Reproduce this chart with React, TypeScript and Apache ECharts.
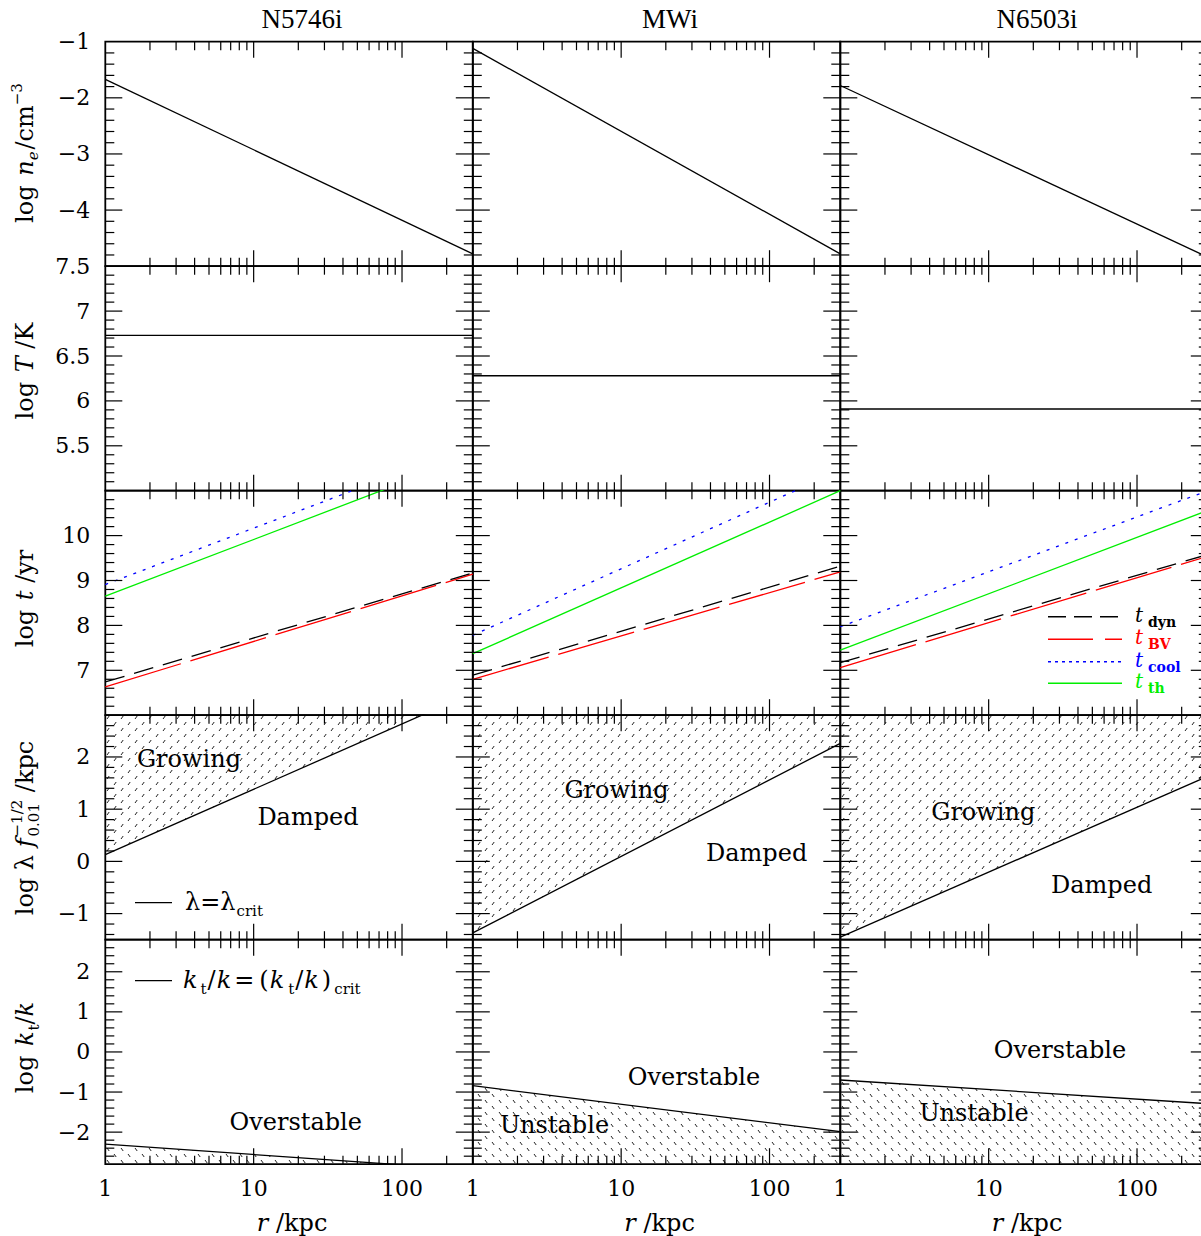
import React, { useEffect, useRef } from 'react';
import * as echarts from 'echarts';

// ---------- data ----------
const GALAXIES = ['N5746i', 'MWi', 'N6503i'];
const R_SAMPLES = [1, 300]; // r / kpc, end points of each profile
const LOG_NE = [[-1.67, -4.78], [-1.12, -4.78], [-1.78, -4.84]];
const LOG_T = [[6.73, 6.73], [6.28, 6.28], [5.91, 5.91]];
const LOG_TDYN = [[6.74, 9.17], [6.89, 9.32], [7.17, 9.58]];
const LOG_TBV = [[6.63, 9.14], [6.8, 9.19], [7.06, 9.54]];
const LOG_TCOOL = [[8.91, 12.02], [7.78, 11.45], [7.97, 11.0]];
const LOG_TTH = [[8.65, 11.78], [7.37, 11.0], [7.45, 10.56]];
const LOG_LAMBDA_CRIT = [[0.13, 3.23], [-1.37, 2.26], [-1.45, 1.63]];
const LOG_KTK_CRIT = [[-2.3, -2.94], [-0.84, -1.99], [-0.7, -1.29]];

// ---------- axes / ticks ----------
const R_MIN = 1;
const R_MAX = 300;
const X_TICK_LABELS = [1, 10, 100];
const X_MAJOR_TICKS = [10, 100];
const X_MINOR_TICKS = [2, 3, 4, 5, 6, 7, 8, 9, 20, 30, 40, 50, 60, 70, 80, 90, 200];
const Y_MIN = [-5, 5, 6, -1.5, -2.8];
const Y_MAX = [-1, 7.5, 11, 2.8, 2.8];
const Y_TICK_LABELS = [
  [-4, -3, -2, -1],
  [5.5, 6, 6.5, 7, 7.5],
  [7, 8, 9, 10],
  [-1, 0, 1, 2],
  [-2, -1, 0, 1, 2],
];
const Y_LABEL_STEP = [1, 0.5, 1, 0.5, 0.2];
const Y_MINOR_STEP = [0.2, 0.1, 0.2, 0.2, 0.2];
const Y_MAJOR_STEP = [1, 0.5, 1, 1, 1];

// ---------- layout ----------
const COL_LEFT = [105.3, 472.8, 840.3];
const ROW_TOP = [41.7, 266.2, 490.7, 715.2, 939.7];
const PW = 367.5;
const PH = 224.5;
const FAM = '"DejaVu Serif"';
const GREEN = '#00ee00';
const RED = '#ff0000';
const BLUE = '#0000ff';

let mctx: CanvasRenderingContext2D | null = null;
function tw(t: string, font: string) {
  if (!mctx) mctx = document.createElement('canvas').getContext('2d');
  mctx!.font = font;
  return mctx!.measureText(t).width;
}
function fontOf(p: any) {
  return `${p.it ? 'italic ' : ''}${p.b ? 'bold ' : ''}${p.size}px ${p.fam || FAM}`;
}
function txt(t: string, x: number, y: number, font: string, fill = '#000', align = 'left') {
  return {
    type: 'text',
    silent: true,
    style: { text: t, x, y, font, fill, align, textAlign: align, verticalAlign: 'middle', textVerticalAlign: 'middle' },
  };
}
function run(pieces: any[]) {
  let x = 0;
  const ch: any[] = [];
  for (const p of pieces) {
    x += p.dx || 0;
    const f = fontOf(p);
    ch.push(txt(p.t, x, (p.dy || 0) - 0.346 * p.size, f, p.color || '#000'));
    let w = tw(p.t, f);
    if (p.stack) {
      const s = p.stack;
      const f2 = fontOf(s);
      ch.push(txt(s.t, x, (s.dy || 0) - 0.346 * s.size, f2, s.color || '#000'));
      w = Math.max(w, tw(s.t, f2));
    }
    x += w;
  }
  return { children: ch, width: x };
}
function placed(pieces: any[], x: number, y: number, center: boolean, rotate = false) {
  const r = run(pieces);
  const off = center ? -r.width / 2 : 0;
  r.children.forEach((c) => (c.style.x += off));
  return { type: 'group', x, y, rotation: rotate ? Math.PI / 2 : 0, silent: true, children: r.children };
}

function makeHatch(slash: boolean) {
  const c = document.createElement('canvas');
  c.width = 14;
  c.height = 12;
  const ctx = c.getContext('2d')!;
  ctx.strokeStyle = '#222';
  ctx.lineWidth = 1;
  const mark = (x: number, y: number) => {
    ctx.beginPath();
    if (slash) {
      ctx.moveTo(x, y + 3);
      ctx.lineTo(x + 2.2, y);
    } else {
      ctx.moveTo(x, y);
      ctx.lineTo(x + 2.2, y + 3);
    }
    ctx.stroke();
  };
  mark(2, 2);
  mark(9, 8);
  return { image: c, repeat: 'repeat', imageWidth: 14, imageHeight: 12 };
}

function yTicks(r: number) {
  const out: number[][] = [];
  const step = Y_MINOR_STEP[r];
  const n0 = Math.ceil(Y_MIN[r] / step - 1e-6);
  const n1 = Math.floor(Y_MAX[r] / step + 1e-6);
  for (let n = n0; n <= n1; n++) {
    const v = +(n * step).toFixed(6);
    if (Math.abs(v - Y_MIN[r]) < 1e-6 || Math.abs(v - Y_MAX[r]) < 1e-6) continue;
    const m = v / Y_MAJOR_STEP[r];
    out.push([v, Math.abs(m - Math.round(m)) < 1e-6 ? 1 : 0]);
  }
  return out;
}
const fmtNum = (v: number) => (v < 0 ? '\u2212' : '') + String(Math.abs(+v.toFixed(4)));

function buildOption() {
  const grid: any[] = [];
  const xAxis: any[] = [];
  const yAxis: any[] = [];
  const series: any[] = [];
  const hatchSlash = makeHatch(true);
  const hatchBack = makeHatch(false);

  const lineSeries = (g: number, ys: number[], color: string, dash: any, extra: any = {}) => ({
    type: 'line',
    xAxisIndex: g,
    yAxisIndex: g,
    data: R_SAMPLES.map((r, i) => [r, ys[i]]),
    symbol: 'none',
    silent: true,
    clip: true,
    z: 3,
    lineStyle: { color, width: 1.3, type: dash || 'solid' },
    ...extra,
  });

  for (let r = 0; r < 5; r++) {
    for (let c = 0; c < 3; c++) {
      const g = r * 3 + c;
      grid.push({
        left: COL_LEFT[c],
        top: ROW_TOP[r],
        width: PW,
        height: PH,
        show: true,
        borderColor: '#000',
        borderWidth: 1.8,
        backgroundColor: 'rgba(0,0,0,0)',
        containLabel: false,
        outerBoundsMode: 'none',
      });
      xAxis.push({
        type: 'log',
        logBase: 10,
        gridIndex: g,
        min: R_MIN,
        max: R_MAX,
        axisLine: { show: false },
        axisTick: { show: false },
        splitLine: { show: false },
        minorTick: { show: false },
        minorSplitLine: { show: false },
        axisLabel: {
          show: r === 4,
          margin: 13,
          color: '#000',
          fontFamily: 'DejaVu Serif',
          fontSize: 22,
          showMaxLabel: false,
          formatter: (v: number) => {
            const l = X_TICK_LABELS.find((t) => Math.abs(t - v) < 1e-6 * t);
            return l != null ? String(l) : '';
          },
        },
      });
      yAxis.push({
        type: 'value',
        gridIndex: g,
        min: Y_MIN[r],
        max: Y_MAX[r],
        interval: Y_LABEL_STEP[r],
        axisLine: { show: false },
        axisTick: { show: false },
        splitLine: { show: false },
        axisLabel: {
          show: c === 0,
          margin: 15,
          color: '#000',
          fontFamily: 'DejaVu Serif',
          fontSize: 22,
          showMinLabel: true,
          showMaxLabel: true,
          formatter: (v: number) => {
            const l = Y_TICK_LABELS[r].find((t) => Math.abs(t - v) < 1e-6);
            return l != null ? fmtNum(l) : '';
          },
        },
      });

      // ticks on all four sides
      const tickData: number[][] = [];
      X_MINOR_TICKS.forEach((v) => tickData.push([v, Y_MIN[r], 0, 0]));
      X_MAJOR_TICKS.forEach((v) => tickData.push([v, Y_MIN[r], 0, 1]));
      yTicks(r).forEach(([v, m]) => tickData.push([R_MIN, v, 1, m]));
      series.push({
        type: 'custom',
        xAxisIndex: g,
        yAxisIndex: g,
        silent: true,
        clip: false,
        z: 5,
        data: tickData,
        renderItem: (params: any, api: any) => {
          const cs = params.coordSys;
          const kind = api.value(2);
          const major = api.value(3);
          const p = api.coord([api.value(0), api.value(1)]);
          const style = { stroke: '#000', lineWidth: 1.2 };
          if (kind === 0) {
            const len = major ? 16 : 8.5;
            const x = p[0];
            return {
              type: 'group',
              children: [
                { type: 'line', shape: { x1: x, y1: cs.y + cs.height, x2: x, y2: cs.y + cs.height - len }, style },
                { type: 'line', shape: { x1: x, y1: cs.y, x2: x, y2: cs.y + len }, style },
              ],
            };
          }
          const len = major ? 17 : 9;
          const y = p[1];
          return {
            type: 'group',
            children: [
              { type: 'line', shape: { x1: cs.x, y1: y, x2: cs.x + len, y2: y }, style },
              { type: 'line', shape: { x1: cs.x + cs.width, y1: y, x2: cs.x + cs.width - len, y2: y }, style },
            ],
          };
        },
      });

      if (r === 0) series.push(lineSeries(g, LOG_NE[c], '#000', null));
      if (r === 1) series.push(lineSeries(g, LOG_T[c], '#000', null));
      if (r === 2) {
        series.push(lineSeries(g, LOG_TCOOL[c], BLUE, [3, 7]));
        series.push(lineSeries(g, LOG_TTH[c], GREEN, null));
        series.push(lineSeries(g, LOG_TBV[c], RED, [79, 10]));
        series.push(lineSeries(g, LOG_TDYN[c], '#000', [20, 10]));
      }
      if (r === 3)
        series.push(lineSeries(g, LOG_LAMBDA_CRIT[c], '#000', null, { areaStyle: { color: hatchSlash, origin: 'end', opacity: 1 } }));
      if (r === 4)
        series.push(lineSeries(g, LOG_KTK_CRIT[c], '#000', null, { areaStyle: { color: hatchBack, origin: 'start', opacity: 1 } }));
    }
  }

  // ---------- graphics (texts) ----------
  const graphic: any[] = [];
  const TITLE_X = [302, 670, 1037];
  GALAXIES.forEach((n, c) => {
    graphic.push(txt(n, TITLE_X[c], 28.3 - 0.34 * 27, '27px "Liberation Serif"', '#000', 'center'));
  });

  const S = 24;
  const SS = 15;
  const yTitles = [
    [{ t: 'log ', size: S }, { t: 'n', size: S, it: true, dx: 2 }, { t: 'e', size: SS, it: true, dy: 5 }, { t: '/cm', size: S, dx: 2 }, { t: '\u22123', size: SS, dy: -11 }],
    [{ t: 'log ', size: S }, { t: 'T', size: S, it: true, dx: 2 }, { t: ' /K', size: S }],
    [{ t: 'log ', size: S }, { t: 't', size: S, it: true, dx: 2 }, { t: ' /yr', size: S }],
    [
      { t: 'log ', size: S },
      { t: '\u03bb ', size: S },
      { t: 'f', size: S, it: true },
      { t: '\u22121/2', size: SS, dy: -11, dx: 2, stack: { t: '0.01', size: SS, dy: 6 } },
      { t: ' /kpc', size: S },
    ],
    [{ t: 'log ', size: S }, { t: 'k', size: S, it: true, dx: 2 }, { t: 't', size: SS, dy: 6, dx: 1 }, { t: '/', size: S }, { t: 'k', size: S, it: true }],
  ];
  const Y_TITLE_CY = [153, 371, 598.5, 828, 1047.5];
  yTitles.forEach((p, r) => graphic.push(placed(p, 33, Y_TITLE_CY[r], true, true)));

  for (let c = 0; c < 3; c++) {
    graphic.push(
      placed([{ t: 'r', size: S, it: true }, { t: ' /kpc', size: S }], COL_LEFT[c] + PW / 2 + 3, 1231, true)
    );
  }

  // legend of timescales
  const LEG = [
    { y: 616.7, dash: [18, 8], color: '#000', sub: 'dyn' },
    { y: 639.3, dash: [45, 12], color: RED, sub: 'BV' },
    { y: 661.7, dash: [3, 4], color: BLUE, sub: 'cool' },
    { y: 683.3, dash: null, color: GREEN, sub: 'th' },
  ];
  LEG.forEach((l) => {
    graphic.push({
      type: 'line',
      silent: true,
      shape: { x1: 1048, y1: l.y, x2: 1122, y2: l.y },
      style: { stroke: l.color, lineWidth: 1.4, lineDash: l.dash || undefined },
    });
    graphic.push(
      placed(
        [
          { t: 't', size: 20, it: true, color: l.color },
          { t: l.sub, size: 14, b: true, color: l.color, dy: 5, dx: 5 },
        ],
        1135,
        l.y + 5,
        false
      )
    );
  });

  // legend lines for the critical curves
  graphic.push({ type: 'line', silent: true, shape: { x1: 135, y1: 902.7, x2: 172, y2: 902.7 }, style: { stroke: '#000', lineWidth: 1.3 } });
  graphic.push(placed([{ t: '\u03bb=\u03bb', size: S }, { t: 'crit', size: SS, dy: 6, dx: 1 }], 185, 910, false));
  graphic.push({ type: 'line', silent: true, shape: { x1: 135, y1: 980.7, x2: 172, y2: 980.7 }, style: { stroke: '#000', lineWidth: 1.3 } });
  graphic.push(
    placed(
      [
        { t: 'k', size: S, it: true },
        { t: 't', size: SS, dy: 6, dx: 3 },
        { t: '/', size: S, dx: 1 },
        { t: 'k', size: S, it: true, dx: 1 },
        { t: '=', size: S, dx: 3 },
        { t: '(', size: S, dx: 5 },
        { t: 'k', size: S, it: true, dx: 1 },
        { t: 't', size: SS, dy: 6, dx: 4 },
        { t: '/', size: S, dx: 1 },
        { t: 'k', size: S, it: true, dx: 1 },
        { t: ')', size: S, dx: 3 },
        { t: 'crit', size: SS, dy: 6, dx: 3 },
      ],
      183,
      988.3,
      false
    )
  );

  // region labels
  const REGION = [
    { t: 'Growing', x: 189, y: 767 },
    { t: 'Damped', x: 308, y: 825 },
    { t: 'Growing', x: 616.5, y: 798 },
    { t: 'Damped', x: 756.7, y: 861.7 },
    { t: 'Growing', x: 983.3, y: 820 },
    { t: 'Damped', x: 1101.7, y: 893 },
    { t: 'Overstable', x: 295.8, y: 1130 },
    { t: 'Overstable', x: 694, y: 1085 },
    { t: 'Unstable', x: 554.5, y: 1133.3 },
    { t: 'Overstable', x: 1060, y: 1058.3 },
    { t: 'Unstable', x: 974, y: 1121.7 },
  ];
  REGION.forEach((l) => graphic.push(txt(l.t, l.x, l.y - 0.346 * S, `${S}px ${FAM}`, '#000', 'center')));

  return {
    animation: false,
    backgroundColor: '#fff',
    grid,
    xAxis,
    yAxis,
    series,
    graphic: { elements: graphic },
  };
}

export default function App() {
  const ref = useRef<HTMLDivElement>(null);
  useEffect(() => {
    const chart = echarts.init(ref.current!, null, { renderer: 'svg' });
    chart.setOption(buildOption() as any);
    return () => chart.dispose();
  }, []);
  return (
    <div
      ref={ref}
      style={{ position: 'absolute', left: 0, top: 0, width: 1201, height: 1236, background: '#fff' }}
    />
  );
}
